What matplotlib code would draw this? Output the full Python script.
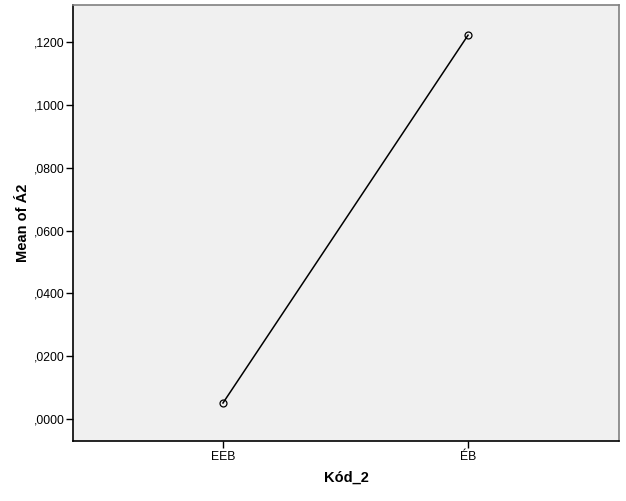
import matplotlib
matplotlib.use("Agg")
import matplotlib.pyplot as plt
from matplotlib.ticker import FuncFormatter

plt.rcParams['font.family'] = ['Liberation Sans', 'DejaVu Sans']

# Data
categories = ['EEB', 'ÉB']
means = [0.0051, 0.1222]
y_ticks = [0.0, 0.02, 0.04, 0.06, 0.08, 0.10, 0.12]

fig = plt.figure(figsize=(6.26, 5.01), dpi=100)
ax = fig.add_axes([73 / 626, 1 - 441 / 501, 546 / 626, 436 / 501])
ax.set_facecolor('#f0f0f0')

x = list(range(len(categories)))
ax.plot(x, means, color='black', linewidth=1.1, marker='o', markersize=5,
        markerfacecolor='none', markeredgecolor='black', markeredgewidth=0.9)

ax.set_xlim(-0.612, 1.616)
ax.set_ylim(-0.0070, 0.1318)
ax.set_xticks(x)
ax.set_xticklabels(categories)
ax.set_yticks(y_ticks)
ax.yaxis.set_major_formatter(FuncFormatter(lambda v, p: ('%.4f' % v).replace('0.', ',', 1)))

ax.tick_params(axis='both', direction='out', length=5, width=1, labelsize=8.8, colors='black')
ax.tick_params(axis='x', pad=2)
ax.tick_params(axis='y', pad=1)

for side in ['left', 'bottom']:
    ax.spines[side].set_color('black')
    ax.spines[side].set_linewidth(1.2)
for side in ['top', 'right']:
    ax.spines[side].set_color('#808080')
    ax.spines[side].set_linewidth(1.2)

ax.set_ylabel('Mean of Á2', fontsize=10.5, fontweight='bold', labelpad=3)
ax.set_xlabel('Kód_2', fontsize=10.5, fontweight='bold', labelpad=6)

fig.savefig('out.png', dpi=100)
